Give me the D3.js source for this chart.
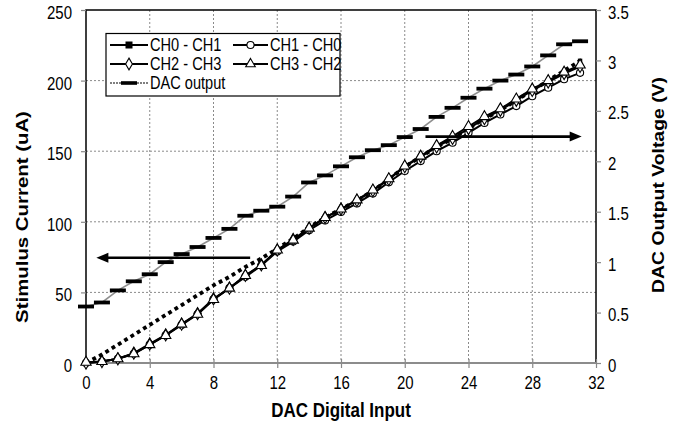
<!DOCTYPE html>
<html><head><meta charset="utf-8">
<script src="https://cdn.jsdelivr.net/npm/d3@7/dist/d3.min.js"></script>
<style>
body{margin:0;background:#fff}
text{font-family:"Liberation Sans",Arial,sans-serif;fill:#000}
</style>
</head><body>
<svg id="c" width="690" height="426"></svg>
<script>
// ---------- data ----------
const dacInput = [0,1,2,3,4,5,6,7,8,9,10,11,12,13,14,15,16,17,18,19,20,21,22,23,24,25,26,27,28,29,30,31];
const ch0ch1 = [0,6,13,20,27,34,41,48,55,61,68,74,81,88,96,103,109,115,122,130,139,146,153,159,166,173,179,186,193,200,207,214];
const ch1ch0 = [0,1,3,6.5,13,19.5,27,34.5,45,53,61,69,79,86,94,101,107,113,120,128,136,143,150,156,163,170,176,182,189,195,201,205.5];
const ch2ch3 = [0,1,3,7,13.5,20,27.5,35,45.5,53,62,69.5,80,87.5,95.5,103,109,115,122,130,139,146,153,159,166,173,179,186,193,199,205,210];
const ch3ch2 = [0.5,1,3,6.5,13,19.5,27.5,34.5,45,53,62,69,80,87,95.5,103,109,115.5,122.5,130.5,139.5,146.5,154,160.5,167.5,174.5,180,187,194,200,206,211];
const dacOutput = [0.56,0.60,0.72,0.81,0.88,1.00,1.08,1.15,1.24,1.33,1.46,1.51,1.55,1.65,1.79,1.86,1.95,2.04,2.11,2.16,2.24,2.32,2.44,2.53,2.63,2.72,2.80,2.86,2.94,3.05,3.16,3.19];
const xTicks = [0,4,8,12,16,20,24,28,32];
const leftTicks = [0,50,100,150,200,250];
const rightTicks = [0,0.5,1,1.5,2,2.5,3,3.5];
const seriesNames = ["CH0 - CH1","CH1 - CH0","CH2 - CH3","CH3 - CH2","DAC output"];
const xTitle = "DAC Digital Input";
const yLeftTitle = "Stimulus Current (uA)";
const yRightTitle = "DAC Output Voltage (V)";
const arrowLeft = {from:10.3, to:0.65, value:74.5};
const arrowRight = {from:21.3, to:31.1, value:2.245};

// ---------- layout ----------
const L=86, R=596, T=10, B=363;
const svg = d3.select("#c");
const x = d3.scaleLinear().domain([0,32]).range([L,R]);
const yL = d3.scaleLinear().domain([0,250]).range([B,T]);
const yR = d3.scaleLinear().domain([0,3.5]).range([B,T]);
const STRETCH = 1.2;

const grid = svg.append("g").attr("stroke","#8a8a8a").attr("stroke-width",1).attr("stroke-dasharray","2,2");
leftTicks.filter(v=>v>0 && v<250).forEach(v=>{
  grid.append("line").attr("x1",L).attr("x2",R).attr("y1",yL(v)).attr("y2",yL(v));
});
xTicks.filter(v=>v>0 && v<32).forEach(v=>{
  grid.append("line").attr("x1",x(v)).attr("x2",x(v)).attr("y1",T).attr("y2",B);
});

svg.append("rect").attr("x",L).attr("y",T).attr("width",R-L).attr("height",B-T)
  .attr("fill","none").attr("stroke","#000").attr("stroke-width",1.5);

const gL = svg.append("g").attr("transform",`translate(${L},0)`)
  .call(d3.axisLeft(yL).tickValues(leftTicks).tickSize(5).tickFormat(d3.format("d")));
const gR = svg.append("g").attr("transform",`translate(${R},0)`)
  .call(d3.axisRight(yR).tickValues(rightTicks).tickSize(5).tickFormat(d=>String(d)));
const gB = svg.append("g").attr("transform",`translate(0,${B})`)
  .call(d3.axisBottom(x).tickValues(xTicks).tickSize(5).tickFormat(d3.format("d")));
[gL,gR,gB].forEach(g=>{
  g.select(".domain").remove();
  g.selectAll(".tick line").attr("stroke","#888").attr("stroke-width",1.2);
  g.selectAll(".tick text").attr("font-size",15).attr("font-family",'"Liberation Sans",Arial,sans-serif').attr("fill","#000").attr("dy",null).attr("y",null).attr("x",null);
});
gL.selectAll(".tick text").attr("text-anchor","end").attr("transform",`translate(-14,8.5) scale(1,${STRETCH})`);
gR.selectAll(".tick text").attr("text-anchor","start").attr("transform",`translate(12,8) scale(1,${STRETCH})`);
gB.selectAll(".tick text").attr("text-anchor","middle").attr("transform",`translate(0,25.5) scale(1,${STRETCH})`);
gB.selectAll(".tick line").attr("y1",-4).attr("y2",5);
svg.append("line").attr("x1",L).attr("x2",R).attr("y1",B).attr("y2",B).attr("stroke","#8c8c8c").attr("stroke-width",2);

svg.append("text").text(xTitle).attr("text-anchor","middle").attr("font-weight","bold").attr("font-size",17)
  .attr("transform",`translate(${(L+R)/2},417) scale(1,${STRETCH})`);
svg.append("text").text(yLeftTitle).attr("text-anchor","middle").attr("font-weight","bold").attr("font-size",17)
  .attr("transform",`translate(28,217) rotate(-90) scale(${STRETCH},1)`);
svg.append("text").text(yRightTitle).attr("text-anchor","middle").attr("font-weight","bold").attr("font-size",17)
  .attr("transform",`translate(664,185) rotate(-90) scale(${STRETCH*0.95},1)`);

// ---------- series ----------
const plot = svg.append("g");
const dacPts = dacInput.map((d,i)=>[d,dacOutput[i]]);
plot.append("path").datum(dacPts)
  .attr("d",d3.line().x(d=>x(d[0])).y(d=>yR(d[1])))
  .attr("fill","none").attr("stroke","#8f8f8f").attr("stroke-width",1.6);
plot.selectAll(".dash").data(dacPts).join("rect")
  .attr("x",d=>x(d[0])-8).attr("y",d=>yR(d[1])-1.9).attr("width",16).attr("height",3.8).attr("fill","#000");

const line = d3.line().x(d=>x(d[0])).y(d=>yL(d[1]));
const p01 = dacInput.map((d,i)=>[d,ch0ch1[i]]);
plot.append("path").datum(p01).attr("d",line).attr("fill","none").attr("stroke","#000")
  .attr("stroke-width",3.8).attr("stroke-dasharray","3.8,3.6");
const last01 = p01[p01.length-1];
plot.append("rect").attr("x",x(last01[0])-2.2).attr("y",yL(last01[1])-2.2).attr("width",4.4).attr("height",4.4).attr("fill","#000");

function drawSeries(vals, sym, size){
  const pts = dacInput.map((d,i)=>[d,vals[i]]);
  plot.append("path").datum(pts).attr("d",line).attr("fill","none").attr("stroke","#000").attr("stroke-width",2);
  plot.append("g").selectAll("path").data(pts).join("path")
    .attr("d",d3.symbol().type(sym).size(size))
    .attr("transform",d=>`translate(${x(d[0])},${yL(d[1])})`)
    .attr("fill","#fff").attr("stroke","#000").attr("stroke-width",1.1);
}
drawSeries(ch1ch0, d3.symbolCircle, 40);
drawSeries(ch2ch3, d3.symbolDiamond, 42);
drawSeries(ch3ch2, d3.symbolTriangle, 46);

function arrow(x1,x2,yy){
  const dir = Math.sign(x2-x1);
  svg.append("line").attr("x1",x1).attr("x2",x2-dir*8).attr("y1",yy).attr("y2",yy)
    .attr("stroke","#000").attr("stroke-width",2.6);
  svg.append("path").attr("d",`M${x2},${yy} L${x2-dir*12},${yy-5} L${x2-dir*12},${yy+5} Z`).attr("fill","#000");
}
arrow(x(arrowLeft.from), x(arrowLeft.to), yL(arrowLeft.value));
arrow(x(arrowRight.from), x(arrowRight.to), yR(arrowRight.value));

// ---------- legend ----------
const lg = svg.append("g");
lg.append("rect").attr("x",106).attr("y",33.5).attr("width",234).attr("height",62.5)
  .attr("fill","#fff").attr("stroke","#000").attr("stroke-width",1.2);
const legItems = [
  {name:seriesNames[0], x0:110, x1:148, y:45, mk:"sq"},
  {name:seriesNames[1], x0:233, x1:268, y:45, mk:d3.symbolCircle},
  {name:seriesNames[2], x0:110, x1:148, y:64, mk:d3.symbolDiamond},
  {name:seriesNames[3], x0:233, x1:268, y:64, mk:d3.symbolTriangle},
  {name:seriesNames[4], x0:110, x1:148, y:83, mk:"dash"}
];
legItems.forEach(it=>{
  const cx = (it.x0+it.x1)/2;
  if(it.mk==="dash"){
    lg.append("line").attr("x1",it.x0).attr("x2",it.x1).attr("y1",it.y).attr("y2",it.y)
      .attr("stroke","#555").attr("stroke-width",1.6).attr("stroke-dasharray","2,1");
    lg.append("rect").attr("x",cx-8).attr("y",it.y-1.8).attr("width",16).attr("height",3.6).attr("fill","#000");
  } else {
    lg.append("line").attr("x1",it.x0).attr("x2",it.x1).attr("y1",it.y).attr("y2",it.y)
      .attr("stroke","#000").attr("stroke-width",2);
    if(it.mk==="sq"){
      lg.append("rect").attr("x",cx-3.5).attr("y",it.y-3.5).attr("width",7).attr("height",7).attr("fill","#000");
    } else {
      lg.append("path").attr("d",d3.symbol().type(it.mk).size(40)).attr("transform",`translate(${cx},${it.y})`)
        .attr("fill","#fff").attr("stroke","#000").attr("stroke-width",1.1);
    }
  }
  lg.append("text").text(it.name).attr("font-size",14.6)
    .attr("transform",`translate(${it.x1+2},${it.y+6}) scale(1,${STRETCH})`);
});
</script>
</body></html>
